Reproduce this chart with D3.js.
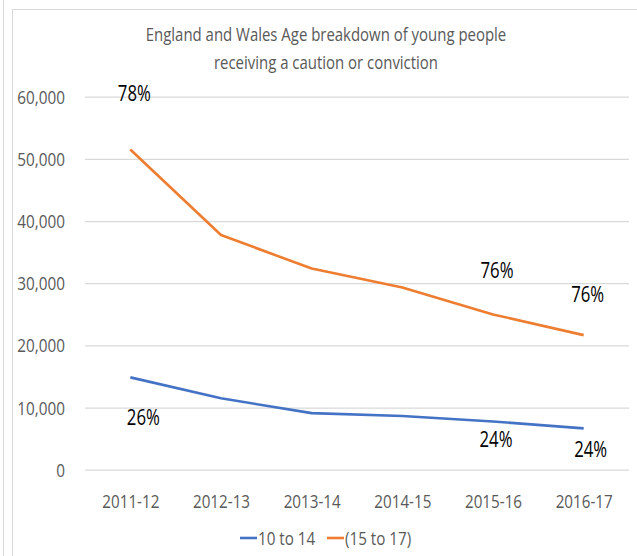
<!DOCTYPE html>
<html>
<head>
<meta charset="utf-8">
<script src="https://cdn.jsdelivr.net/npm/d3@7"></script>
<style>
  html, body { margin: 0; padding: 0; background: #fff; }
  svg { display: block; }
  text { font-family: "Open Sans", "Liberation Sans", sans-serif; }
</style>
</head>
<body>
<svg id="chart" width="637" height="556"></svg>
<script>
// ---- data ----
const categories = ["2011-12", "2012-13", "2013-14", "2014-15", "2015-16", "2016-17"];
const age10to14 = [14850, 11480, 9100, 8650, 7750, 6650];
const age15to17 = [51500, 37750, 32350, 29300, 24980, 21650];
const seriesNames = ["10 to 14", "(15 to 17)"];
const yTicks = [0, 10000, 20000, 30000, 40000, 50000, 60000];
const titleLines = ["England and Wales Age breakdown of young people", "receiving a caution or conviction"];
const shareLabels = [
  { series: 1, cat: "2011-12", text: "78%" },
  { series: 0, cat: "2011-12", text: "26%" },
  { series: 1, cat: "2015-16", text: "76%" },
  { series: 1, cat: "2016-17", text: "76%" },
  { series: 0, cat: "2015-16", text: "24%" },
  { series: 0, cat: "2016-17", text: "24%" }
];

// ---- layout / style ----
const colors = ["#4472C4", "#ED7D31"];
const labelOffsets = [[4, -49], [13, 48], [4, -36], [4, -33], [3, 25], [7, 29]];
const svg = d3.select("#chart");

// horizontally condense text to mimic a narrow font
function squeezeBy(sel, f) {
  sel.each(function () {
    const w = this.getComputedTextLength();
    this.setAttribute("textLength", w * f);
    this.setAttribute("lengthAdjust", "spacingAndGlyphs");
  });
}

// frame lines
svg.append("line").attr("x1", 3.5).attr("x2", 3.5).attr("y1", 0).attr("y2", 556).attr("stroke", "#d9d9d9");
svg.append("line").attr("x1", 12.5).attr("x2", 12.5).attr("y1", 9.5).attr("y2", 556).attr("stroke", "#d9d9d9");
svg.append("line").attr("x1", 12.5).attr("x2", 637).attr("y1", 9.5).attr("y2", 9.5).attr("stroke", "#d9d9d9");

const x = d3.scalePoint().domain(categories).range([85, 629]).padding(0.5);
const y = d3.scaleLinear().domain([0, 60000]).range([469.7, 96.7]);

// gridlines + y labels
const yAxis = d3.axisLeft(y).tickValues(yTicks).tickSize(-(629 - 85)).tickFormat(d3.format(",")).tickPadding(20);
const gy = svg.append("g").attr("transform", "translate(85,0)").call(yAxis);
gy.select(".domain").remove();
gy.selectAll(".tick line").attr("stroke", "#d9d9d9").attr("stroke-width", 1.3);
gy.selectAll(".tick text").attr("fill", "#595959").attr("font-size", 18).attr("x", -20).attr("dy", "0.36em");
squeezeBy(gy.selectAll(".tick text"), 0.85);

// x axis labels
const xAxis = d3.axisBottom(x).tickSize(0).tickPadding(0);
const gx = svg.append("g").attr("transform", "translate(0,469.7)").call(xAxis);
gx.select(".domain").remove();
gx.selectAll(".tick text").attr("fill", "#595959").attr("font-size", 19).attr("dy", null).attr("y", 38);
squeezeBy(gx.selectAll(".tick text"), 0.8);

// lines
const allSeries = [age10to14, age15to17];
const line = d3.line().x((d, i) => x(categories[i])).y(d => y(d)).curve(d3.curveLinear);
allSeries.forEach((s, k) => {
  svg.append("path").datum(s).attr("d", line).attr("fill", "none")
    .attr("stroke", colors[k]).attr("stroke-width", 2.6).attr("stroke-linejoin", "round");
});

// share labels
shareLabels.forEach((l, i) => {
  const idx = categories.indexOf(l.cat);
  const v = allSeries[l.series][idx];
  const t = svg.append("text")
    .attr("x", x(l.cat) + labelOffsets[i][0])
    .attr("y", y(v) + labelOffsets[i][1])
    .attr("text-anchor", "middle").attr("font-size", 22).attr("fill", "#000")
    .text(l.text);
  squeezeBy(t, 0.76);
});

// title
const titleY = [41, 69];
titleLines.forEach((t, i) => {
  const tt = svg.append("text").attr("x", 326).attr("y", titleY[i]).attr("text-anchor", "middle")
    .attr("font-size", 18).attr("fill", "#595959").text(t);
  squeezeBy(tt, 0.83);
});

// legend
const legendX = [240, 327];
seriesNames.forEach((n, k) => {
  svg.append("line").attr("x1", legendX[k]).attr("x2", legendX[k] + 17)
    .attr("y1", 538).attr("y2", 538).attr("stroke", colors[k]).attr("stroke-width", 2.6);
  const t = svg.append("text").attr("x", legendX[k] + 18).attr("y", 545).attr("font-size", 19)
    .attr("fill", "#595959").text(n);
  squeezeBy(t, 0.8);
});
</script>
</body>
</html>
